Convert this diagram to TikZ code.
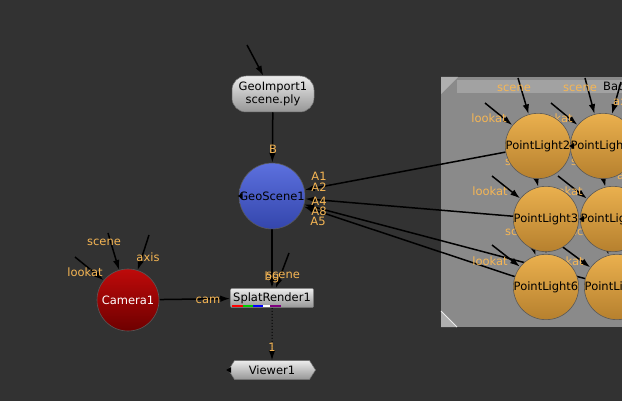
\documentclass[tikz,border=0pt]{standalone}
\usepackage{fontspec}
\setmainfont{DejaVu Sans}
\usetikzlibrary{arrows.meta,shapes.symbols,backgrounds,calc}
\definecolor{bgdark}{RGB}{50,50,50}
\definecolor{bdgray}{RGB}{138,138,138}
\definecolor{bdbar}{RGB}{162,162,162}
\definecolor{bdcorner}{RGB}{175,175,175}
\definecolor{lblorange}{RGB}{246,182,84}
\definecolor{blueA}{RGB}{92,112,222}
\definecolor{blueB}{RGB}{52,70,172}
\definecolor{redA}{RGB}{190,10,10}
\definecolor{redB}{RGB}{110,0,0}
\definecolor{lightA}{RGB}{234,176,78}
\definecolor{lightB}{RGB}{182,128,46}
\definecolor{greyA}{RGB}{236,236,236}
\definecolor{greyB}{RGB}{150,150,150}
\pgfdeclarelayer{bd}
\pgfsetlayers{bd,background,main}
\def\picw{622}
\def\pich{401}

\begin{document}
\begin{tikzpicture}[x=1pt, y=-1pt, font=\fontsize{11.5}{13}\selectfont,
  wire/.style={line width=1.5pt, -{Latex[length=10pt,width=6.5pt]}},
  lbl/.style={text=lblorange, inner sep=0pt},
  ball/.style={circle, draw=black!65, line width=0.6pt, minimum size=61pt, inner sep=0pt},
  light/.style={ball, top color=lightA, bottom color=lightB},
  flat/.style={rectangle, draw=black!55, line width=0.5pt, top color=greyA, bottom color=greyB, inner sep=1pt},
  tipmark/.style={fill=black}]
\useasboundingbox (0,0) rectangle (\picw,\pich);
\clip (0,0) rectangle (\picw,\pich);

\node[flat, rounded corners=14pt, minimum width=82pt, minimum height=36pt, align=center] (GI) at (273,94) {GeoImport1\\scene.ply};
\node[ball, top color=blueA, bottom color=blueB] (GS) at (272,196) {GeoScene1};
\node[ball, top color=redA, bottom color=redB, text=white, minimum size=62pt] (Cam) at (128,300) {Camera1};
\node[flat, minimum width=83pt, minimum height=19pt, rounded corners=1pt] (SR) at (272,298) {\raisebox{1.5pt}{SplatRender1}};
\node[flat, signal, signal to=west and east, signal pointer angle=115, minimum width=87pt, minimum height=19pt] (V) at (272,370) {Viewer1};
\node[light] (L2) at (538,146) {PointLight2};
\node[light] (L1) at (603,146) {PointLight1};
\node[light] (L3) at (546,219) {PointLight3};
\node[light] (L4) at (613,219) {PointLight4};
\node[light] (L6) at (546,287) {PointLight6};
\node[light] (L5) at (617,287) {PointLight5};

\fill[tipmark] ($(GS.west)+(-1,0)$) -- ++(5,-3) -- ++(0,6) -- cycle;
\fill[tipmark] ($(V.west)+(-2,0)$) -- ++(5,-3) -- ++(0,6) -- cycle;
\fill[tipmark] ($(L1.west)+(-1,0)$) -- ++(5,-3) -- ++(0,6) -- cycle;
\fill[tipmark] ($(L4.west)+(-1,0)$) -- ++(5,-3) -- ++(0,6) -- cycle;

\foreach \c/\x in {red/0,green!80!black/11,blue/21,white/31,violet/38}
  \draw[\c, line width=2pt] ($(SR.south west)+(2+\x,-1.5)$) -- ++(11,0);

\begin{pgfonlayer}{bd}
\fill[bgdark] (0,0) rectangle (\picw,\pich);
\fill[bdgray] (441,77) rectangle (\picw,327);
\fill[bdbar] (457,80) rectangle (\picw,93);
\fill[bdcorner] (441,77) -- (458,77) -- (441,94) -- cycle;
\fill[bdcorner] (441,311) -- (457,327) -- (441,327) -- cycle;
\draw[white!85!gray, line width=1pt] (441,311) -- (457,327);
\node[anchor=west, inner sep=0pt] (bdname) at (603,87) {Backdrop1};
\end{pgfonlayer}

\begin{pgfonlayer}{background}
\coordinate (giIn) at (247,45);
\coordinate (camScene) at (108,233);
\coordinate (camLook) at (75,257);
\coordinate (camAxis) at (149,235);
\coordinate (srScene) at (289,253);
\coordinate (l2Scene) at (518,78);
\coordinate (l2Look) at (485,103);
\coordinate (l1Scene) at (585,78);
\coordinate (l1Look) at (551,103);
\coordinate (l1Axis) at (621,82);
\coordinate (l3Scene) at (533,165);
\coordinate (l3Look) at (492,176);
\coordinate (l4Scene) at (598,156);
\coordinate (l4Look) at (558,176);
\coordinate (l6Scene) at (528,232);
\coordinate (l6Axis) at (546,236);
\coordinate (l6Look) at (492,245);
\coordinate (l5Scene) at (601,226);
\coordinate (l5Look) at (560,245);

\draw[wire] (giIn) -- (GI);
\draw[wire] (GI) -- (GS);
\draw[wire] (L2) -- (GS);
\draw[wire] (L3) -- (GS);
\draw[wire] (L6) -- (GS);
\draw[wire] (L5) -- (GS);
\draw[wire] (GS) -- (SR);
\draw[wire] (srScene) -- (SR);
\draw[wire] (Cam) -- (SR);
\draw[wire, line width=1pt, dotted] (SR) -- (V);
\draw[wire] (camScene) -- (Cam);
\draw[wire] (camLook) -- (Cam);
\draw[wire] (camAxis) -- (Cam);
\draw[wire] (l2Scene) -- (L2);
\draw[wire] (l2Look) -- (L2);
\draw[wire] (l1Scene) -- (L1);
\draw[wire] (l1Look) -- (L1);
\draw[wire] (l1Axis) -- (L1);
\draw[wire] (l3Scene) -- (L3);
\draw[wire] (l3Look) -- (L3);
\draw[wire] (l4Scene) -- (L4);
\draw[wire] (l4Look) -- (L4);
\draw[wire] (l6Scene) -- (L6);
\draw[wire] (l6Axis) -- (L6);
\draw[wire] (l6Look) -- (L6);
\draw[wire] (l5Scene) -- (L5);
\draw[wire] (l5Look) -- (L5);

\node[lbl] (lbB) at (273,149) {B};
\node[lbl] (lbA1) at (319,176) {A1};
\node[lbl] (lbA2) at (319,187) {A2};
\node[lbl] (lbA4) at (319,201) {A4};
\node[lbl] (lbA8) at (319,211) {A8};
\node[lbl] (lbA5) at (318,221) {A5};
\node[lbl] (lbBg) at (272,277) {bg};
\node[lbl] (lbSrScene) at (283,275) {scene};
\node[lbl] (lbCam) at (208,300) {cam};
\node[lbl] (lbOne) at (272,347) {1};
\node[lbl] (lbCamScene) at (104,242) {scene};
\node[lbl] (lbCamLook) at (85,272) {lookat};
\node[lbl] (lbCamAxis) at (148,257) {axis};
\node[lbl] (lbL2Scene) at (514,88) {scene};
\node[lbl] (lbL2Look) at (489,118) {lookat};
\node[lbl] (lbL1Scene) at (580,88) {scene};
\node[lbl] (lbL1Look) at (555,118) {lookat};
\node[lbl, anchor=west] (lbL1Axis) at (613,101) {axis};
\node[lbl] (lbL3Scene) at (522,162) {scene};
\node[lbl] (lbL3Look) at (490,191) {lookat};
\node[lbl] (lbL4Scene) at (588,162) {scene};
\node[lbl] (lbL4Look) at (565,191) {lookat};
\node[lbl, anchor=west] (lbL4Axis) at (617,175) {axis};
\node[lbl] (lbL6Scene) at (522,232) {scene};
\node[lbl] (lbL6Look) at (490,261) {lookat};
\node[lbl] (lbL5Scene) at (588,232) {scene};
\node[lbl] (lbL5Look) at (566,261) {lookat};
\end{pgfonlayer}
\end{tikzpicture}
\end{document}
